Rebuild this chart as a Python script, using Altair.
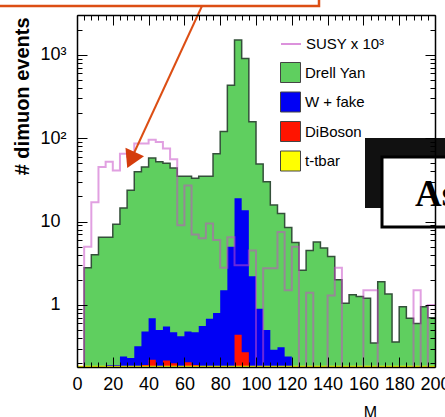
import altair as alt
import pandas as pd

# ---------------- data ----------------
bin_lo = list(range(0, 200, 4))          # 50 bins of width 4 (GeV)
x_max = 200

# stacked heights (top of each stack component), per bin
drell_yan_top = [0, 2.8, 4.0, 6.5, 6.5, 9.3, 14.5, 23.8, 39.5, 45,
                 58, 52, 50, 44, 35, 35, 33, 35, 35, 65,
                 120, 430, 1500, 900, 157, 49, 30, 15.8, 12.5, 8.5,
                 5.6, 2.6, 4.5, 5.7, 4.8, 3.8, 2.0, 1.05, 1.32, 1.26,
                 1.2, 0.35, 1.9, 1.35, 0.36, 0.95, 0.69, 0.6, 0.95, 0.7]
wfake_top = [0, 0, 0, 0, 0.19, 0.19, 0.24, 0.23, 0.32, 0.48,
             0.69, 0.5, 0.55, 0.47, 0.42, 0.48, 0.47, 0.56, 0.68, 0.8,
             1.5, 5, 19, 13.7, 2.2, 0.9, 0.5, 0.29, 0.31, 0.24,
             0, 0, 0, 0, 0, 0, 0, 0, 0, 0,
             0, 0, 0, 0, 0, 0, 0, 0, 0, 0]
diboson_top = [0, 0, 0, 0, 0, 0, 0, 0, 0.18, 0.19,
               0.22, 0.185, 0.215, 0.2, 0.18, 0.205, 0.19, 0.18, 0, 0,
               0, 0.185, 0.44, 0.27, 0.185, 0, 0, 0, 0, 0,
               0, 0, 0, 0, 0, 0, 0, 0, 0, 0,
               0, 0, 0, 0, 0, 0, 0, 0, 0, 0]
ttbar_top = [0.186] * 50
susy_x1000 = [0, 5, 17, 45, 52, 41, 65, 60, 86, 86,
              96, 90, 75, 56, 9, 27, 7, 6.3, 9.5, 6,
              2.8, 6.5, 3, 3, 4.5, 0, 2.75, 2.75, 7.5, 1.5,
              5, 0, 1.4, 0, 0, 1.3, 2.8, 0, 0, 0,
              1.5, 1.5, 0, 0, 0, 0, 0, 1.5, 0, 1.0]

series_names = ["Drell Yan", "W + fake", "DiBoson", "t-tbar"]
series_colors = ["#5fcf5f", "#0000f5", "#ff1400", "#ffff00"]
susy_name = "SUSY x 10³"

x_ticks_major = list(range(0, 201, 20))
x_ticks_minor = [v for v in range(0, 201, 4) if v % 20]
y_plain_labels = [1, 10]
y_power_labels = [100, 1000]
y_ticks_major = [1, 10, 100, 1000]
y_ticks_minor = ([round(0.1 * k, 1) for k in range(2, 10)] + list(range(2, 10))
                 + list(range(20, 100, 10)) + list(range(200, 1000, 100)) + [2000, 3000])

# ---------------- table ----------------
floor = 0.01
def closed(v):
    return [max(a, floor) for a in v] + [max(v[-1], floor)]

df = pd.DataFrame({
    "edge": bin_lo + [x_max],
    "dy": closed(drell_yan_top),
    "wf": closed(wfake_top),
    "db": closed(diboson_top),
    "tt": closed(ttbar_top),
    "susy": closed(susy_x1000),
})

xs = alt.Scale(domain=[0, 200], nice=False, zero=False)
ys = alt.Scale(type="log", domain=[0.18, 3000], nice=False)
FONT = "Liberation Sans"

fill_scale = alt.Scale(domain=series_names, range=series_colors)
fill_legend = alt.Legend(orient="none", legendX=203, legendY=47, title=None,
                         symbolType="square", symbolSize=400, symbolStrokeColor="#444",
                         symbolStrokeWidth=1, symbolOpacity=1, labelFont=FONT,
                         labelFontSize=15, labelColor="black", rowPadding=4.5,
                         labelOffset=4, padding=0)
stroke_legend = alt.Legend(orient="none", legendX=203, legendY=18, title=None,
                           symbolType="stroke", symbolSize=400, symbolStrokeWidth=2,
                           symbolOpacity=0.6, labelFont=FONT, labelFontSize=15,
                           labelColor="black", labelOffset=4, padding=0)

base = alt.Chart(df)

def area(field, name):
    return base.transform_calculate(series=f"'{name}'").mark_area(
        interpolate="step-after", clip=True, opacity=1).encode(
        x=alt.X("edge:Q", scale=xs, axis=None),
        y=alt.Y(f"{field}:Q", scale=ys, axis=None),
        y2=alt.datum(floor),
        fill=alt.Fill("series:N", scale=fill_scale, legend=fill_legend),
    )

dy_area = area("dy", "Drell Yan")
dy_line = base.mark_line(interpolate="step-after", clip=True, color="#34503a",
                         strokeWidth=1.5).encode(
    x=alt.X("edge:Q", scale=xs, axis=None),
    y=alt.Y("dy:Q", scale=ys, axis=None))
wf_area = area("wf", "W + fake")
db_area = area("db", "DiBoson")
tt_area = area("tt", "t-tbar")
susy_line = base.transform_calculate(series=f"'{susy_name}'").mark_line(
    interpolate="step-after", clip=True, strokeWidth=2, strokeOpacity=0.53).encode(
    x=alt.X("edge:Q", scale=xs, axis=None),
    y=alt.Y("susy:Q", scale=ys, axis=None),
    stroke=alt.Stroke("series:N",
                      scale=alt.Scale(domain=[susy_name], range=["#c64bc6"]),
                      legend=stroke_legend))

# ---------------- axes (frame, inward ticks, labels) ----------------
anchor = pd.DataFrame({"x": [100.0], "y": [1.0]})

def axis_layer(xaxis=None, yaxis=None):
    return alt.Chart(anchor).mark_point(opacity=0).encode(
        x=alt.X("x:Q", scale=xs, axis=xaxis),
        y=alt.Y("y:Q", scale=ys, axis=yaxis))

def tick_axis(orient, values, size):
    return alt.Axis(orient=orient, values=values, labels=False, domain=False,
                    ticks=True, tickSize=size, tickColor="black", tickWidth=1,
                    offset=-size, title=None, grid=False, zindex=1)

def frame_axis(orient):
    return alt.Axis(orient=orient, labels=False, ticks=False, domain=True,
                    domainColor="black", domainWidth=1.5, title=None, grid=False,
                    zindex=1)

x_label_axis = alt.Axis(orient="bottom", values=x_ticks_major, ticks=False, domain=True,
                        domainColor="black", domainWidth=1.5, labelFont=FONT,
                        labelFontSize=18, labelColor="black", labelPadding=8,
                        labelFlush=False, grid=False, zindex=1, title="M",
                        titleFont=FONT, titleFontSize=16, titleFontWeight="normal",
                        titleColor="black", titleX=293, titleY=37,
                        titleAlign="center", titleBaseline="top")
y_label_axis = alt.Axis(orient="left", values=y_plain_labels, ticks=False, domain=True,
                        domainColor="black", domainWidth=1.5, labelFont=FONT,
                        labelFontSize=18, labelColor="black", labelPadding=17,
                        labelExpr="datum.value == 1 ? '1' : '10'",
                        grid=False, zindex=1, title="# dimuon events", titleFont=FONT,
                        titleFontSize=20, titleFontWeight="bold", titleColor="black",
                        titleAngle=270, titleAlign="right", titleBaseline="middle",
                        titleX=-55, titleY=2)
y_power_axis = alt.Axis(orient="left", values=y_power_labels, ticks=False, domain=False,
                        labelFont=FONT, labelFontSize=18, labelColor="black",
                        labelPadding=11,
                        labelExpr="datum.value == 100 ? '10²' : '10³'",
                        grid=False, zindex=1, title=None)

axes = [
    axis_layer(xaxis=x_label_axis),
    axis_layer(xaxis=tick_axis("bottom", x_ticks_major, 10)),
    axis_layer(xaxis=tick_axis("bottom", x_ticks_minor, 5)),
    axis_layer(xaxis=frame_axis("top")),
    axis_layer(xaxis=tick_axis("top", x_ticks_major, 10)),
    axis_layer(xaxis=tick_axis("top", x_ticks_minor, 5)),
    axis_layer(yaxis=y_label_axis),
    axis_layer(yaxis=y_power_axis),
    axis_layer(yaxis=tick_axis("left", y_ticks_major, 10)),
    axis_layer(yaxis=tick_axis("left", y_ticks_minor, 5)),
    axis_layer(yaxis=frame_axis("right")),
    axis_layer(yaxis=tick_axis("right", y_ticks_major, 10)),
    axis_layer(yaxis=tick_axis("right", y_ticks_minor, 5)),
]

# ---------------- overlays seen on the slide ----------------
one = alt.Chart(pd.DataFrame({"k": [0]}))
orange = "#dc4e14"
note_box = one.mark_rect(fill=None, stroke=orange, strokeWidth=2.5).encode(
    x=alt.value(-90), x2=alt.value(242), y=alt.value(-30), y2=alt.value(-9))
arrow_line = one.mark_rule(color=orange, strokeWidth=2).encode(
    x=alt.value(125), y=alt.value(-9), x2=alt.value(57), y2=alt.value(138))
arrow_head = one.mark_point(shape="triangle-down", filled=True, color="#d43c0c",
                            size=420, opacity=1, angle=25).encode(
    x=alt.value(54), y=alt.value(145))
shadow = one.mark_rect(fill="#111111").encode(
    x=alt.value(288), x2=alt.value(390), y=alt.value(123), y2=alt.value(193))
box = one.mark_rect(fill="white", stroke="black", strokeWidth=3).encode(
    x=alt.value(305), x2=alt.value(395), y=alt.value(142), y2=alt.value(212))
box_text = one.mark_text(text="As", font="Liberation Serif", fontWeight="bold",
                         fontSize=37, align="left", baseline="alphabetic",
                         color="black").encode(x=alt.value(338), y=alt.value(191))

chart = alt.layer(
    dy_area, wf_area, db_area, tt_area, dy_line, susy_line,
    *axes,
    note_box, arrow_line, arrow_head, shadow, box, box_text,
).resolve_axis(x="independent", y="independent").properties(
    width=358, height=352,
    padding={"left": 77, "top": 15, "right": 10, "bottom": 50},
    autosize=alt.AutoSizeParams(type="none"),
    background="white",
).configure_view(strokeWidth=0)

chart.save("out.html", embed_options={"renderer": "svg", "actions": False})
